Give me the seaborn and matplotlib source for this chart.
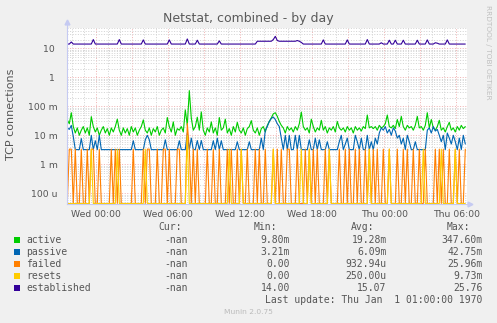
import numpy as np
import pandas as pd
import matplotlib
matplotlib.use("Agg")
import matplotlib.pyplot as plt
import seaborn as sns
from matplotlib.ticker import FixedLocator, FixedFormatter, LogLocator, NullFormatter
from matplotlib.patches import Rectangle

# ---------------- data (10-minute samples, hours relative to Wed 00:00) ----------------
t_first = -2.4167          # Tue 21:35
t_step = 1.0 / 6.0         # 10 minutes
n_samples = 200

# active connections per second, in milli (m)
active_m = [
    34, 25, 60, 20, 12, 18, 10, 15, 20, 12, 18, 10, 44, 20, 13,
    18, 10, 15, 20, 12, 17, 10, 18, 13, 20, 36, 15, 10, 18, 12,
    17, 10, 20, 13, 18, 10, 15, 20, 34, 15, 12, 18, 10, 17, 13,
    20, 10, 15, 18, 12, 41, 20, 13, 29, 10, 17, 15, 20, 13, 75,
    22, 347.6, 39,
    15, 20, 42, 15, 64, 15, 10, 18, 13, 29, 12, 18, 10, 41, 15,
    18, 36, 12, 17, 10, 20, 13, 28, 15, 12, 18, 10, 17, 20, 32,
    15, 12, 18, 10, 17, 20, 13, 22, 30, 40, 55, 60, 45, 30, 22,
    18, 12, 20, 15, 18, 13, 20, 15, 25, 63, 20, 15, 18, 12, 36,
    20, 13, 18, 15, 33, 15, 20, 12, 18, 15, 20, 13, 30, 18, 15,
    18, 13, 20, 15, 18, 12, 20, 15, 18, 14, 20, 17, 50, 18, 20,
    17, 20, 15, 22, 18, 20, 25, 50, 20, 18, 22, 17, 35, 20, 45,
    20, 15, 22, 18, 20, 15, 22, 45, 18, 20, 15, 22, 60, 18, 35,
    18, 15, 20, 33, 15, 18, 13, 20, 28, 15, 18, 13, 20, 15, 22, 17, 20,
]

# passive: baseline value plus the samples that rise above it (index, value in m)
passive_base_m = 3.21
passive_idx = [0, 1, 2, 3, 7, 12, 14, 16, 33, 39, 40, 41, 49, 56, 60, 62, 65, 67, 73, 75,
               77, 85, 91, 97, 99, 100, 101, 102, 103, 104, 105, 106, 107, 109, 111, 114,
               116, 121, 124, 126, 130, 136, 137, 139, 140, 144, 145, 147, 150, 152, 154,
               155, 156, 157, 158, 159, 160, 161, 162, 163, 164, 165, 166, 167, 168, 170,
               171, 174, 180, 181, 182, 183, 184, 185, 186, 187, 188, 190, 191, 192, 193,
               194, 196, 198, 199]
passive_val_m = [18, 16, 22, 9, 7.7, 10, 6.5, 10, 6.5, 7, 10, 7, 7, 6.5, 12, 8, 6.6, 6.6, 6.5, 8,
                 6.5, 6, 6, 8, 15, 20, 30, 38, 42.75, 35, 25, 20, 8, 10, 10, 10,
                 10, 7, 8, 7, 6, 6, 10, 5, 8, 10, 6, 8, 10, 6, 8,
                 5, 12, 18, 15, 20, 12, 16, 10, 18, 14, 8, 10, 5, 8, 10,
                 6, 6, 15, 18, 12, 20, 14, 16, 10, 6, 10, 12, 8, 5, 10,
                 6, 8, 10, 5]

# failed: zero except these samples (index, value in m)
failed_idx = [1, 2, 4, 7, 10, 12, 13, 16, 22, 24, 26, 33, 38, 40, 41, 45, 48, 49, 51, 55,
              56, 60, 61, 63, 65, 70, 73, 76, 80, 82, 85, 87, 90, 94, 96, 99, 103, 105, 107,
              110, 111, 115, 119, 121, 123, 125, 129, 131, 136, 139, 141, 144, 146, 149,
              151, 153, 155, 158, 161, 165, 168, 170, 173, 176, 179, 184, 186, 188, 191,
              194, 196, 199]
failed_val_m = [3.33] * 21 + [25.96] + [3.33] * 50

# resets: zero except these samples (index, value in m)
resets_idx = [12, 25, 39, 60, 81, 87, 103, 117, 121, 131, 151, 161, 178, 187, 194]
resets_val_m = [3.33, 3.33, 3.33, 9.73, 3.33, 3.33, 3.33, 3.33, 3.33, 3.33, 3.33, 3.33,
                3.33, 3.33, 3.33]

# established connections (absolute)
established = [
    14, 14, 16.5, 14, 14, 14, 14, 14, 14, 14, 14, 14, 14, 20, 14, 14, 14, 14, 14, 14,
    14, 14, 14, 14, 14, 14, 20, 14, 14, 14, 14, 14, 14, 14, 14, 14, 14, 14, 19.5, 14,
    14, 14, 14, 14, 14, 14, 14, 14, 14, 14, 14, 19.5, 14, 14, 14, 14, 14, 14, 14, 14,
    21, 14, 14, 14, 14, 19, 14, 14, 14, 14, 14, 14, 14, 14, 14, 14, 18, 14, 14, 14,
    14, 14, 14, 14, 14, 14, 14, 14, 14, 14, 14, 14, 14, 14, 14, 17.5, 17.5, 17.5, 17.5, 17.5,
    17.5, 17.5, 17.5, 20, 25.76, 18.5, 17.5, 17.5, 17.5, 17.5, 17.5, 17.5, 17.5, 17.5, 17.5, 18.5, 17.5, 16, 14, 14,
    14, 14, 14, 14, 14, 14, 14, 14, 19.5, 14, 14, 14, 14, 14, 14, 14, 14, 14, 14, 14,
    19.5, 14, 14, 14, 14, 14, 14, 14, 14, 14, 20, 14, 14, 14, 14, 14, 14, 15.5, 14, 14,
    14, 19, 14, 14, 19, 14, 14, 14, 19, 14, 14, 14, 14, 14, 14, 19, 14, 14, 14, 14,
    19.5, 14, 14, 14, 15.5, 15, 14, 14, 14, 14, 19.5, 14, 14, 14, 14, 14, 14, 14, 14, 14,
]

series_names = ["active", "passive", "failed", "resets", "established"]
series_colors = ["#00CC00", "#0066B3", "#FF8000", "#FFCC00", "#330099"]

x_tick_hours = [0, 6, 12, 18, 24, 30]
x_tick_labels = ["Wed 00:00", "Wed 06:00", "Wed 12:00", "Wed 18:00", "Thu 00:00", "Thu 06:00"]
y_tick_values = [1e-4, 1e-3, 1e-2, 1e-1, 1, 10]
y_tick_labels = ["100 u", "1 m", "10 m", "100 m", "1 ", "10 "]

legend_cur = ["-nan", "-nan", "-nan", "-nan", "-nan"]
legend_min = ["9.80m", "3.21m", "0.00", "0.00", "14.00"]
legend_avg = ["19.28m", "6.09m", "932.94u", "250.00u", "15.07"]
legend_max = ["347.60m", "42.75m", "25.96m", "9.73m", "25.76"]

# ---------------- assemble ----------------
t = t_first + np.arange(n_samples) * t_step
passive_m = np.full(n_samples, passive_base_m)
passive_m[passive_idx] = passive_val_m
failed_m = np.zeros(n_samples)
failed_m[failed_idx] = failed_val_m
resets_m = np.zeros(n_samples)
resets_m[resets_idx] = resets_val_m

values = {
    "active": np.array(active_m) * 1e-3,
    "passive": passive_m * 1e-3,
    "failed": failed_m * 1e-3,
    "resets": resets_m * 1e-3,
    "established": np.array(established, dtype=float),
}

# axis geometry (log scale; rrdtool clamps zero to the bottom of the graph)
y_bottom, y_top = 4.45e-5, 52.1
x_left, x_right = -2.4417, 30.8917

frames = []
for name in series_names:
    v = np.maximum(values[name], y_bottom)
    frames.append(pd.DataFrame({"t": t, "v": v, "series": name}))
df = pd.concat(frames, ignore_index=True)

# ---------------- figure ----------------
sns.set_theme(style="white")
plt.rcParams["font.family"] = ["DejaVu Sans"]

W, H = 497, 323
fig = plt.figure(figsize=(W / 100, H / 100), dpi=100, facecolor="#F0F0F0")
ax = fig.add_axes([67 / W, (H - 203.5) / H, 400 / W, 176 / H])
ax.set_facecolor("white")
ax.set_axisbelow(True)

sns.lineplot(data=df, x="t", y="v", hue="series", hue_order=series_names,
             palette=dict(zip(series_names, series_colors)), estimator=None,
             errorbar=None, linewidth=0.8, legend=False, ax=ax, sort=False)

ax.set_yscale("log")
ax.set_ylim(y_bottom, y_top)
ax.set_xlim(x_left, x_right)
ax.set_xlabel("")
ax.set_ylabel("")

major_x = [h for h in range(0, 31, 3)]
ax.xaxis.set_major_locator(FixedLocator(major_x))
ax.xaxis.set_major_formatter(FixedFormatter(
    [x_tick_labels[x_tick_hours.index(h)] if h in x_tick_hours else "" for h in major_x]))
ax.xaxis.set_minor_locator(FixedLocator(list(range(-2, 31))))
ax.xaxis.set_minor_formatter(NullFormatter())
ax.yaxis.set_major_locator(FixedLocator(y_tick_values))
ax.yaxis.set_major_formatter(FixedFormatter(y_tick_labels))
ax.yaxis.set_minor_locator(LogLocator(base=10, subs=np.arange(2, 10)))
ax.yaxis.set_minor_formatter(NullFormatter())

ax.grid(which="major", color="#F0B4B4", linestyle=(0, (1.0, 1.6)), linewidth=0.72)
ax.grid(which="minor", color="#D4D4D4", linestyle=(0, (1.0, 1.6)), linewidth=0.72)

ax.tick_params(axis="both", which="major", length=2, width=0.6, color="#F0A0A0",
               labelsize=6.7, labelcolor="#555555", pad=2.5, direction="out")
ax.tick_params(axis="both", which="minor", length=1.5, width=0.6, color="#CCCCCC", direction="out")
ax.tick_params(axis="y", which="major", pad=4.5)

axis_col = "#C5CAF2"
for s in ["top", "right"]:
    ax.spines[s].set_visible(False)
for s in ["left", "bottom"]:
    ax.spines[s].set_color(axis_col)
    ax.spines[s].set_linewidth(0.8)
ax.plot([0, 0], [1, 1 + 6 / 176], color=axis_col, lw=0.8, transform=ax.transAxes, clip_on=False)
ax.plot([0], [1 + 6 / 176], marker="^", ms=3.5, color=axis_col, mec=axis_col,
        transform=ax.transAxes, clip_on=False)
ax.plot([1, 1 + 3 / 400], [0, 0], color=axis_col, lw=0.8, transform=ax.transAxes, clip_on=False)
ax.plot([1 + 3 / 400], [0], marker=">", ms=3.5, color=axis_col, mec=axis_col,
        transform=ax.transAxes, clip_on=False)

def fx(px):
    return px / W

def fy(py):
    return 1 - py / H

text_col = "#555555"
fig.text(fx(248.5), fy(18.5), "Netstat, combined - by day", ha="center", va="center",
         fontsize=9, color="#5A5A5A")
fig.text(fx(11), fy(114), "TCP connections", rotation=90, ha="center", va="center",
         fontsize=8, color=text_col)
fig.text(fx(488), fy(52.5), "RRDTOOL / TOBI OETIKER", rotation=270, ha="center", va="center",
         fontsize=5.3, color="#C0C0C0")

mono = "DejaVu Sans Mono"
fs = 7
hdr_y = 227.5
fig.text(fx(181.7), fy(hdr_y), "Cur:", ha="right", va="center", family=mono, fontsize=fs, color=text_col)
fig.text(fx(277.3), fy(hdr_y), "Min:", ha="right", va="center", family=mono, fontsize=fs, color=text_col)
fig.text(fx(374.3), fy(hdr_y), "Avg:", ha="right", va="center", family=mono, fontsize=fs, color=text_col)
fig.text(fx(470.0), fy(hdr_y), "Max:", ha="right", va="center", family=mono, fontsize=fs, color=text_col)

row_y = [240, 252, 264, 276, 288]
for k, name in enumerate(series_names):
    yc = row_y[k]
    fig.patches.append(Rectangle((fx(14), fy(yc + 3)), 6 / W, 6 / H, transform=fig.transFigure,
                                 facecolor=series_colors[k], edgecolor="none"))
    fig.text(fx(26.3), fy(yc), name, ha="left", va="center", family=mono, fontsize=fs, color=text_col)
    fig.text(fx(187.7), fy(yc), legend_cur[k], ha="right", va="center", family=mono, fontsize=fs, color=text_col)
    fig.text(fx(290.0), fy(yc), legend_min[k], ha="right", va="center", family=mono, fontsize=fs, color=text_col)
    fig.text(fx(386.7), fy(yc), legend_avg[k], ha="right", va="center", family=mono, fontsize=fs, color=text_col)
    fig.text(fx(482.7), fy(yc), legend_max[k], ha="right", va="center", family=mono, fontsize=fs, color=text_col)

fig.text(fx(482.7), fy(300), "Last update: Thu Jan  1 01:00:00 1970", ha="right", va="center",
         family=mono, fontsize=fs, color=text_col)
fig.text(fx(248), fy(312), "Munin 2.0.75", ha="center", va="center", fontsize=5.4, color="#BBBBBB")

fig.savefig("out.png", dpi=100, facecolor=fig.get_facecolor())
